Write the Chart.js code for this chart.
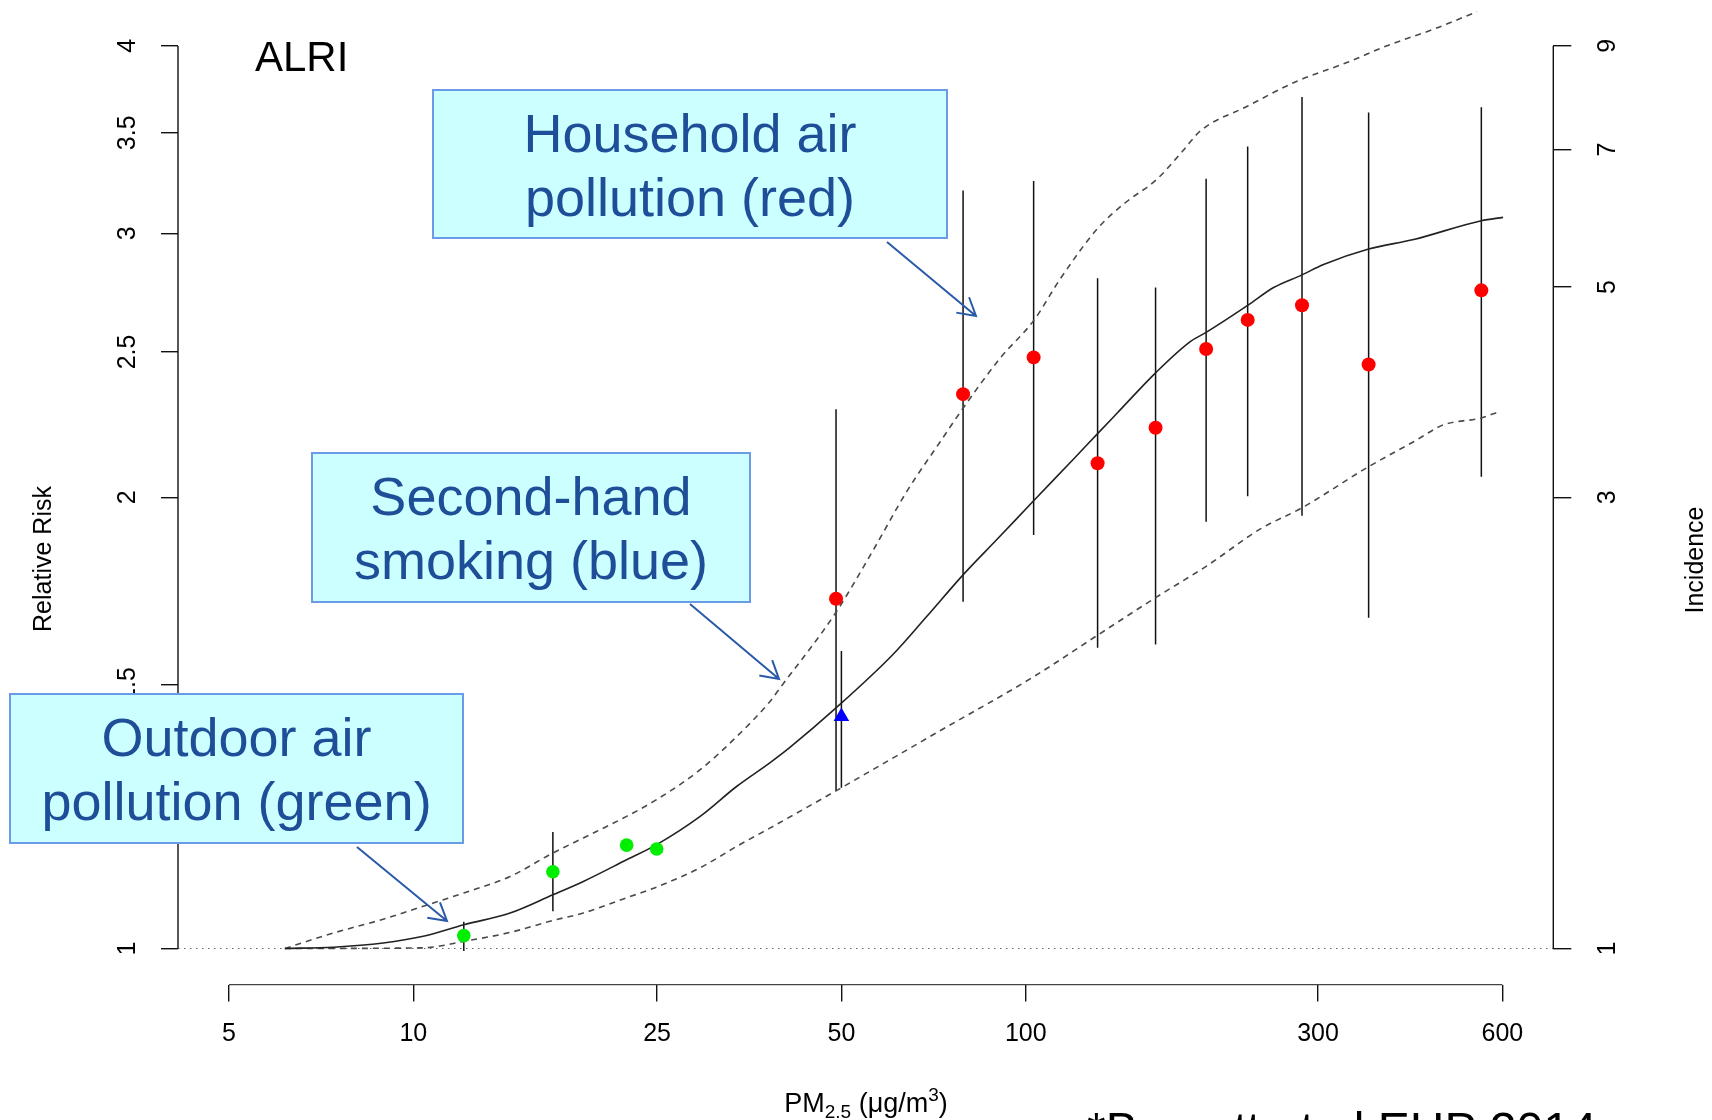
<!DOCTYPE html>
<html>
<head>
<meta charset="utf-8">
<title>ALRI – relative risk vs. PM2.5</title>
<style>
  html, body { margin: 0; padding: 0; background: #ffffff; }
  canvas { display: block; }
</style>
<script src="https://cdn.jsdelivr.net/npm/chart.js@4.4.1/dist/chart.umd.min.js"></script>
</head>
<body>
<canvas id="chart" width="1712" height="1120"></canvas>
<script>
// ---------- axis ticks ----------
const pmTicks = [5, 10, 25, 50, 100, 300, 600];
const rrTicks = [1, 1.5, 2, 2.5, 3, 3.5, 4];
const rrTickLabels = ['1', '1.5', '2', '2.5', '3', '3.5', '4'];
const incidenceLabels = ['1', '3', '5', '7', '9'];
const incidenceAtRR = [1, 2.0, 2.762, 3.411, 4.0];   // where each incidence tick sits on the RR scale

// ---------- integrated exposure-response curve (central estimate) ----------
const curvePM = [6.17, 7.4, 8.93, 10.38, 12.09, 14.39, 16.9, 18.95, 22.3, 24.97, 29.4, 33.75, 38.2, 41.2,
                 49.0, 60.8, 68.9, 79.0, 89.7, 103, 119.7, 131, 140.9, 162.9, 185.6, 197, 230.3, 253.9,
                 282.5, 306.3, 362.9, 429.9, 554.4, 601.6];
const curveRR = [1.0, 1.002, 1.0085, 1.019, 1.037, 1.056, 1.086, 1.1085, 1.146, 1.173, 1.225, 1.283, 1.33, 1.362,
                 1.447, 1.572, 1.665, 1.775, 1.874, 1.989, 2.121, 2.205, 2.275, 2.421, 2.54, 2.576, 2.685, 2.76,
                 2.814, 2.859, 2.928, 2.971, 3.058, 3.074];

// ---------- upper uncertainty bound ----------
const upperPM = [6.17, 7.4, 8.93, 10.38, 12.09, 14.39, 16.9, 18.95, 22.3, 24.97, 29.4, 33.75, 38.2, 39.7,
                 49.0, 56.4, 63.9, 72.5, 79.0, 90.8, 103, 113.8, 130.7, 144.4, 163.8, 181, 192.7, 230,
                 277.2, 334.5, 389, 463.4, 545.5];
const upperRR = [1.0, 1.024, 1.046, 1.067, 1.089, 1.117, 1.158, 1.185, 1.225, 1.257, 1.316, 1.385, 1.461, 1.492,
                 1.676, 1.845, 2.017, 2.178, 2.293, 2.476, 2.623, 2.796, 3.019, 3.137, 3.26, 3.409, 3.51, 3.646,
                 3.789, 3.899, 4.001, 4.104, 4.216];

// ---------- lower uncertainty bound ----------
const lowerPM = [6.17, 10.37, 12.09, 14.39, 16.9, 18.95, 22.3, 24.97, 29.4, 33.75, 38.2, 49.0, 72.2, 103,
                 131, 162.9, 197.6, 241.6, 282, 362.9, 429.9, 481, 554.4, 588];
const lowerRR = [1.0, 1.001, 1.011, 1.025, 1.044, 1.056, 1.081, 1.099, 1.132, 1.17, 1.203, 1.274, 1.396, 1.518,
                 1.618, 1.714, 1.80, 1.905, 1.967, 2.096, 2.178, 2.235, 2.259, 2.278];

// ---------- study estimates ----------
// household air pollution (red)
const hapPM = [49.0, 79.0, 103, 131, 162.9, 197, 230.3, 282.5, 362.9, 554.4];
const hapRR = [1.711, 2.343, 2.479, 2.107, 2.225, 2.511, 2.626, 2.686, 2.452, 2.748];
const hapLo = [1.274, 1.703, 1.887, 1.587, 1.595, 1.926, 2.003, 1.944, 1.662, 2.064];
const hapHi = [2.289, 3.204, 3.25, 2.80, 2.76, 3.262, 3.427, 3.698, 3.611, 3.641];
// ambient / outdoor air pollution (green)
const aapPM = [12.09, 16.9, 22.3, 24.97];
const aapRR = [1.02, 1.125, 1.172, 1.165];
const aapLo = [0.996, 1.059, null, null];
const aapHi = [1.042, 1.196, null, null];
// second-hand smoking (blue)
const shsPM = [50.0];
const shsRR = [1.428];
const shsLo = [1.28];
const shsHi = [1.579];

// ---------- axis limits: data range widened by 4% on a log basis ----------
const widen = (lo, hi) => 0.04 * Math.log(hi / lo);
const xMin = pmTicks[0] * Math.exp(-widen(pmTicks[0], pmTicks[pmTicks.length - 1]));
const xMax = pmTicks[pmTicks.length - 1] * Math.exp(widen(pmTicks[0], pmTicks[pmTicks.length - 1]));
const yMin = rrTicks[0] * Math.exp(-widen(rrTicks[0], rrTicks[rrTicks.length - 1]));
const yMax = rrTicks[rrTicks.length - 1] * Math.exp(widen(rrTicks[0], rrTicks[rrTicks.length - 1]));

const FAM = '"Liberation Sans", Arial, Helvetica, sans-serif';
const pts = (xs, ys) => xs.map((x, i) => ({ x, y: ys[i] }));

// ---------- annotation call-outs (page layout, pixels) ----------
const notes = [
  { lines: ['Household air', 'pollution (red)'],   box: [433, 90, 514, 148],  arrow: [887, 242, 976, 316] },
  { lines: ['Second-hand', 'smoking (blue)'],      box: [312, 453, 438, 149], arrow: [690, 604, 779, 679] },
  { lines: ['Outdoor air', 'pollution (green)'],   box: [10, 694, 453, 149],  arrow: [357, 847, 447, 921] }
];

function seg(ctx, x0, y0, x1, y1) {
  ctx.beginPath(); ctx.moveTo(x0, y0); ctx.lineTo(x1, y1); ctx.stroke();
}
function upText(ctx, text, x, y) {
  ctx.save();
  ctx.translate(x, y);
  ctx.rotate(-Math.PI / 2);
  ctx.textAlign = 'center';
  ctx.textBaseline = 'alphabetic';
  ctx.fillText(text, 0, 0);
  ctx.restore();
}
function drawArrow(ctx, x0, y0, x1, y1) {
  const ang = Math.atan2(y0 - y1, x0 - x1);
  const L = 20, spread = Math.PI / 6;
  ctx.beginPath();
  ctx.moveTo(x0, y0); ctx.lineTo(x1, y1);
  ctx.moveTo(x1 + L * Math.cos(ang - spread), y1 + L * Math.sin(ang - spread));
  ctx.lineTo(x1, y1);
  ctx.lineTo(x1 + L * Math.cos(ang + spread), y1 + L * Math.sin(ang + spread));
  ctx.stroke();
}

const errorSets = [
  { pm: aapPM, lo: aapLo, hi: aapHi },
  { pm: hapPM, lo: hapLo, hi: hapHi },
  { pm: shsPM, lo: shsLo, hi: shsHi }
];

const decor = {
  id: 'decor',
  beforeDatasetsDraw(chart) {
    const { ctx, chartArea: a, scales: { x, y } } = chart;
    ctx.save();
    ctx.beginPath(); ctx.rect(a.left, a.top, a.right - a.left, a.bottom - a.top); ctx.clip();
    ctx.strokeStyle = '#111'; ctx.lineWidth = 1.5;
    errorSets.forEach(s => s.pm.forEach((pm, i) => {
      if (s.lo[i] == null) return;
      const px = x.getPixelForValue(pm);
      seg(ctx, px, y.getPixelForValue(s.lo[i]), px, y.getPixelForValue(s.hi[i]));
    }));
    ctx.restore();
  },
  afterDraw(chart) {
    const { ctx, chartArea: a, scales: { x, y, y2 } } = chart;
    ctx.save();
    // axis lines, spanning first to last tick
    ctx.strokeStyle = '#111'; ctx.lineWidth = 1.4;
    seg(ctx, a.left, y.getPixelForValue(rrTicks[0]), a.left, y.getPixelForValue(rrTicks[rrTicks.length - 1]));
    seg(ctx, a.right, y2.getPixelForValue(incidenceAtRR[0]), a.right, y2.getPixelForValue(incidenceAtRR[incidenceAtRR.length - 1]));
    ctx.strokeStyle = '#444';
    seg(ctx, x.getPixelForValue(pmTicks[0]), a.bottom, x.getPixelForValue(pmTicks[pmTicks.length - 1]), a.bottom);

    // tick labels
    ctx.fillStyle = '#000';
    ctx.font = `25px ${FAM}`;
    rrTicks.forEach((v, i) => upText(ctx, rrTickLabels[i], a.left - 42.7, y.getPixelForValue(v)));
    incidenceAtRR.forEach((v, i) => upText(ctx, incidenceLabels[i], a.right + 61.5, y2.getPixelForValue(v)));
    ctx.textAlign = 'center'; ctx.textBaseline = 'alphabetic';
    pmTicks.forEach(v => ctx.fillText(String(v), x.getPixelForValue(v), a.bottom + 56));

    // axis titles
    upText(ctx, 'Relative Risk', 51, 559);
    upText(ctx, 'Incidence', 1703, 560);
    const big = `27px ${FAM}`, small = `19px ${FAM}`;
    const parts = [['PM', big, 0], ['2.5', small, 6], [' (\u03bcg/m', big, 0], ['3', small, -11], [')', big, 0]];
    let total = 0;
    parts.forEach(p => { ctx.font = p[1]; total += ctx.measureText(p[0]).width; });
    let cx = 866 - total / 2;
    ctx.textAlign = 'left';
    parts.forEach(p => { ctx.font = p[1]; ctx.fillText(p[0], cx, 1112 + p[2]); cx += ctx.measureText(p[0]).width; });

    // panel title and source
    ctx.font = `42px ${FAM}`;
    ctx.fillText('ALRI', 255, 70.7);
    ctx.font = `48px ${FAM}`;
    ctx.fillText('*Burnett et al EHP 2014', 1087, 1146);

    // call-out boxes with arrows
    notes.forEach(n => {
      const [bx, by, bw, bh] = n.box;
      ctx.fillStyle = '#ccffff';
      ctx.fillRect(bx, by, bw, bh);
      ctx.strokeStyle = '#6b9be6'; ctx.lineWidth = 2;
      ctx.strokeRect(bx, by, bw, bh);
      ctx.fillStyle = '#1f4e99';
      ctx.font = `54px ${FAM}`;
      ctx.textAlign = 'center';
      n.lines.forEach((t, i) => ctx.fillText(t, bx + bw / 2, by + 62 + i * 64));
      ctx.strokeStyle = '#285aa8'; ctx.lineWidth = 2;
      drawArrow(ctx, ...n.arrow);
    });
    ctx.restore();
  }
};

const tickGrid = len => ({
  display: true, drawOnChartArea: false, drawTicks: true, tickLength: len,
  color: '#111', lineWidth: 1.4, tickColor: '#111', tickWidth: 1.4
});

const curveStyle = { showLine: true, pointRadius: 0, cubicInterpolationMode: 'monotone', borderWidth: 1.6 };

new Chart(document.getElementById('chart'), {
  type: 'scatter',
  data: {
    datasets: [
      { label: 'Second-hand smoking', data: pts(shsPM, shsRR), pointStyle: 'triangle', pointRadius: 9,
        backgroundColor: '#0000ff', borderColor: '#0000ff', borderWidth: 0 },
      { label: 'Household air pollution', data: pts(hapPM, hapRR), pointStyle: 'circle', pointRadius: 7,
        backgroundColor: '#ff0000', borderColor: '#ff0000', borderWidth: 0 },
      { label: 'Outdoor air pollution', data: pts(aapPM, aapRR), pointStyle: 'circle', pointRadius: 6.8,
        backgroundColor: '#00ee00', borderColor: '#00ee00', borderWidth: 0 },
      { label: 'IER', data: pts(curvePM, curveRR), ...curveStyle, borderColor: '#222' },
      { label: 'Upper', data: pts(upperPM, upperRR), ...curveStyle, borderColor: '#4a4a4a', borderDash: [6, 5] },
      { label: 'Lower', data: pts(lowerPM, lowerRR), ...curveStyle, borderColor: '#4a4a4a', borderDash: [6, 5] },
      { label: 'RR = 1', data: [{ x: xMin, y: 1 }, { x: xMax, y: 1 }], showLine: true, pointRadius: 0,
        borderColor: '#666', borderWidth: 1.2, borderDash: [1.5, 4.5] }
    ]
  },
  options: {
    responsive: false,
    animation: false,
    devicePixelRatio: 1,
    layout: { padding: { top: 9.8, left: 0, right: 0, bottom: 0 } },
    plugins: { legend: { display: false }, tooltip: { enabled: false } },
    scales: {
      x: {
        type: 'logarithmic', position: 'bottom', min: xMin, max: xMax, bounds: 'data',
        afterBuildTicks: s => { s.ticks = pmTicks.map(v => ({ value: v })); },
        afterFit: s => { s.height = 135.4; s.paddingLeft = 0; s.paddingRight = 0; },
        ticks: { display: false, autoSkip: false },
        grid: tickGrid(17),
        border: { display: false }
      },
      y: {
        type: 'logarithmic', position: 'left', min: yMin, max: yMax, bounds: 'data',
        afterBuildTicks: s => { s.ticks = rrTicks.map(v => ({ value: v })); },
        afterFit: s => { s.width = 178; s.paddingTop = 0; s.paddingBottom = 0; },
        ticks: { display: false, autoSkip: false },
        grid: tickGrid(17),
        border: { display: false }
      },
      y2: {
        type: 'logarithmic', position: 'right', min: yMin, max: yMax, bounds: 'data',
        afterBuildTicks: s => { s.ticks = incidenceAtRR.map(v => ({ value: v })); },
        afterFit: s => { s.width = 158.7; s.paddingTop = 0; s.paddingBottom = 0; },
        ticks: { display: false, autoSkip: false },
        grid: tickGrid(18),
        border: { display: false }
      }
    }
  },
  plugins: [decor]
});
</script>
</body>
</html>
